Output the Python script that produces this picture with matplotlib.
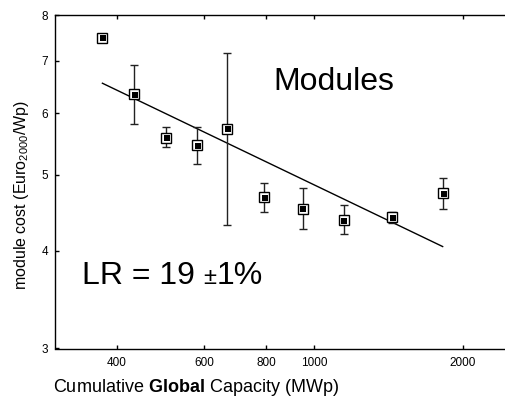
import matplotlib
matplotlib.use("Agg")
import matplotlib.pyplot as plt
from matplotlib.ticker import FixedLocator, NullLocator, FixedFormatter
import matplotlib.transforms as mtransforms

plt.rcParams['font.family'] = ['Liberation Sans', 'DejaVu Sans']
plt.rcParams['mathtext.fontset'] = 'custom'
plt.rcParams['mathtext.rm'] = 'Liberation Sans'
plt.rcParams['mathtext.it'] = 'Liberation Sans:italic'
plt.rcParams['mathtext.bf'] = 'Liberation Sans:bold'

# data
capacity = [374, 434, 503, 580, 669, 794, 949, 1148, 1439, 1824]
cost = [7.49, 6.35, 5.58, 5.46, 5.73, 4.69, 4.53, 4.38, 4.42, 4.74]
err_hi = [None, 6.91, 5.76, 5.76, 7.17, 4.89, 4.81, 4.58, 4.49, 4.96]
err_lo = [None, 5.81, 5.43, 5.17, 4.31, 4.49, 4.27, 4.20, 4.34, 4.53]
fit_x = [374, 1820]
fit_y = [6.55, 4.05]
xticks = [400, 600, 800, 1000, 2000]
yticks = [3, 4, 5, 6, 7, 8]

fig = plt.figure(figsize=(5.05, 3.97), dpi=100)
ax = fig.add_axes([55/505, 1-348.5/397, (505-55)/505, (348.5-15.3)/397])
ax.set_xscale('log')
ax.set_yscale('log')
ax.set_xlim(300, 2432)
ax.set_ylim(3, 8)

ax.plot(fit_x, fit_y, color='black', lw=1.0, zorder=2)

ex, ey, elo, ehi = [], [], [], []
for x, y, h, l in zip(capacity, cost, err_hi, err_lo):
    if h is None:
        continue
    ex.append(x); ey.append(y); elo.append(y - l); ehi.append(h - y)
ax.errorbar(ex, ey, yerr=[elo, ehi], fmt='none', ecolor='#222222',
            elinewidth=1.0, capsize=3, capthick=1.0, zorder=3)

ax.plot(capacity, cost, linestyle='none', marker='s', markersize=7,
        markerfacecolor='white', markeredgecolor='black', markeredgewidth=1.0, zorder=4)
off = mtransforms.offset_copy(ax.transData, fig=fig, x=0.8, y=-0.8, units='dots')
ax.plot(capacity, cost, linestyle='none', marker='s', markersize=4,
        markerfacecolor='black', markeredgecolor='black', markeredgewidth=0, zorder=5,
        transform=off)

ax.xaxis.set_major_locator(FixedLocator(xticks))
ax.xaxis.set_major_formatter(FixedFormatter([str(t) for t in xticks]))
ax.xaxis.set_minor_locator(NullLocator())
ax.yaxis.set_major_locator(FixedLocator(yticks))
ax.yaxis.set_major_formatter(FixedFormatter([str(t) for t in yticks]))
ax.yaxis.set_minor_locator(NullLocator())

ax.tick_params(axis='both', direction='in', length=3, width=1, labelsize=8.5,
               top=True, right=False)
ax.tick_params(axis='x', pad=6)
ax.tick_params(axis='y', pad=5)
ax.spines['right'].set_visible(False)
for s in ['left', 'bottom', 'top']:
    ax.spines[s].set_linewidth(1.0)

fig.text(273/505, 1-90/397, 'Modules', fontsize=23, ha='left', va='baseline')

fig.text(82/505, 1-284/397, 'LR = 19', fontsize=23, ha='left', va='baseline')
fig.text(203/505, 1-283.5/397, '\u00b1', fontsize=17, ha='left', va='baseline')
fig.text(216.5/505, 1-284/397, '1%', fontsize=23, ha='left', va='baseline')

fig.text(196/505, 1-391.5/397, r'Cumulative $\mathbf{Global}$ Capacity (MWp)',
         fontsize=13, ha='center', va='baseline')
fig.text(22/505, 1-195/397, r'module cost (Euro$_{\mathregular{2000}}$/Wp)',
         fontsize=11.5, ha='center', va='center', rotation=90)

fig.savefig('out.png', dpi=100)
